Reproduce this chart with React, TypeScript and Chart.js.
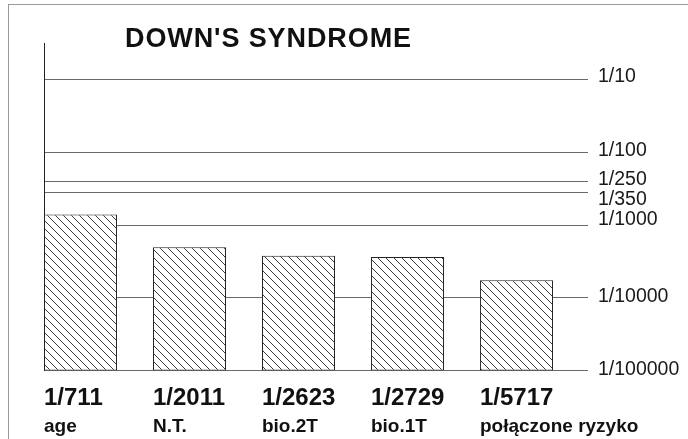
import React, { useEffect, useRef } from 'react';
import { Chart, registerables } from 'chart.js';

Chart.register(...registerables);

// ---- data ----
const TITLE = "DOWN'S SYNDROME";
const CATEGORIES = ['age', 'N.T.', 'bio.2T', 'bio.1T', 'połączone ryzyko'];
const RISK_DENOMINATORS = [711, 2011, 2623, 2729, 5717];
const VALUE_LABELS = ['1/711', '1/2011', '1/2623', '1/2729', '1/5717'];
const TICK_VALUES = [10, 100, 250, 350, 1000, 10000, 100000];
const TICK_LABELS = ['1/10', '1/100', '1/250', '1/350', '1/1000', '1/10000', '1/100000'];
const AXIS_TOP = 3.1;
const AXIS_BOTTOM = 100000;

// ---- style ----
const FONT = "'Liberation Sans', Arial, Helvetica, sans-serif";
const BAR_FRACTION = 0.67;
const HALF = BAR_FRACTION / 2;
const X_MIN = -HALF;
const X_MAX = X_MIN + 4.991;
const LABEL_NUDGE = [-3.5, -2, -2, 8, -5.5, -1.5, -1];
const TICK_SIZE = 19.5;

function makeHatch(ctx: CanvasRenderingContext2D) {
  const c = document.createElement('canvas');
  c.width = 8;
  c.height = 8;
  const g = c.getContext('2d')!;
  g.fillStyle = '#ffffff';
  g.fillRect(0, 0, 8, 8);
  g.strokeStyle = '#3a3a3a';
  g.lineWidth = 1;
  g.beginPath();
  g.moveTo(-1, -1);
  g.lineTo(9, 9);
  g.moveTo(7, -1);
  g.lineTo(9, 1);
  g.moveTo(-1, 7);
  g.lineTo(1, 9);
  g.stroke();
  return ctx.createPattern(c, 'repeat');
}

// each label is drawn as the second line of a two-line tick, so that
// line spacing (lineHeightPx) and padding place it inside its own axis box
function labelAxis(weight: number, size: number, padding: number, lineHeightPx: number, labels: string[]) {
  return {
    type: 'linear' as const,
    position: 'bottom' as const,
    weight,
    min: X_MIN,
    max: X_MAX,
    offset: false,
    bounds: 'data' as const,
    grid: { display: false, drawTicks: false },
    border: { display: false },
    afterBuildTicks: (s: any) => {
      s.ticks = labels.map((_, i) => ({ value: i - HALF }));
    },
    ticks: {
      align: 'start' as const,
      autoSkip: false,
      maxRotation: 0,
      minRotation: 0,
      padding,
      color: '#111',
      font: { family: FONT, size, weight: 'bold' as const, lineHeight: lineHeightPx / size },
      callback: (_v: any, i: number) => ['', labels[i]],
    },
  };
}

export default function App() {
  const ref = useRef<HTMLCanvasElement | null>(null);

  useEffect(() => {
    const canvas = ref.current!;
    const ctx = canvas.getContext('2d')!;
    const hatch = makeHatch(ctx);
    const chart = new Chart(canvas, {
      type: 'bar',
      data: {
        datasets: [
          {
            data: RISK_DENOMINATORS.map((d, i) => ({ x: i, y: [AXIS_BOTTOM, d] })) as any,
            backgroundColor: hatch as any,
            borderColor: '#222',
            borderWidth: 1,
            borderSkipped: false,
            categoryPercentage: BAR_FRACTION,
            barPercentage: 1,
            xAxisID: 'x',
            yAxisID: 'y',
          },
        ],
      },
      options: {
        responsive: false,
        animation: false,
        layout: { padding: { left: 44, top: 43, right: -1.3, bottom: 0 } },
        plugins: {
          legend: { display: false },
          tooltip: { enabled: false },
          title: { display: false },
        },
        scales: {
          x: {
            type: 'linear',
            display: false,
            weight: 0,
            min: X_MIN,
            max: X_MAX,
            offset: false,
            bounds: 'data',
            afterBuildTicks: (s: any) => {
              s.ticks = RISK_DENOMINATORS.map((_, i) => ({ value: i }));
            },
          },
          xv: labelAxis(1, 24, 2.75, 16.5, VALUE_LABELS) as any,
          xn: labelAxis(2, 19, 10.2, 4.8, CATEGORIES) as any,
          y: {
            type: 'logarithmic',
            position: 'right',
            reverse: true,
            min: AXIS_TOP,
            max: AXIS_BOTTOM,
            bounds: 'data',
            afterBuildTicks: (s: any) => {
              s.ticks = TICK_VALUES.map((v) => ({ value: v }));
            },
            grid: { color: '#6a6a6a', lineWidth: 1, drawTicks: false },
            border: { display: false },
            ticks: {
              padding: 10,
              autoSkip: false,
              color: '#1a1a1a',
              font: (c: any) => {
                const i = TICK_VALUES.indexOf(c.tick ? c.tick.value : -1);
                const n = i >= 0 ? Math.abs(LABEL_NUDGE[i]) : 0;
                return { family: FONT, size: TICK_SIZE, lineHeight: n ? (2 * n) / TICK_SIZE : 1.2 };
              },
              callback: (value: any) => {
                const i = TICK_VALUES.indexOf(Number(value));
                if (i < 0) return '';
                const label = TICK_LABELS[i];
                const n = LABEL_NUDGE[i];
                if (n < 0) return [label, ''];
                if (n > 0) return ['', label];
                return label;
              },
            },
          },
          yL: {
            type: 'linear',
            position: 'left',
            display: true,
            grid: { display: false, drawTicks: false },
            border: { display: true, color: '#222', width: 1 },
            ticks: { display: false },
          },
        },
      } as any,
    });
    return () => chart.destroy();
  }, []);

  return (
    <div
      style={{
        position: 'fixed',
        left: 0,
        top: 0,
        width: 688,
        height: 439,
        background: '#ffffff',
        overflow: 'hidden',
      }}
    >
      <canvas ref={ref} width={688} height={439} style={{ display: 'block', width: 688, height: 439 }} />
      <div
        style={{
          position: 'absolute',
          left: 8,
          top: 4,
          right: -2,
          bottom: -2,
          borderTop: '1px solid #9a9a9a',
          borderLeft: '1px solid #9a9a9a',
          pointerEvents: 'none',
        }}
      />
      <div
        style={{
          position: 'absolute',
          left: 125,
          top: 25,
          fontFamily: FONT,
          fontWeight: 'bold',
          fontSize: 27,
          lineHeight: '27px',
          letterSpacing: 0.9,
          color: '#111',
          whiteSpace: 'nowrap',
        }}
      >
        {TITLE}
      </div>
    </div>
  );
}
